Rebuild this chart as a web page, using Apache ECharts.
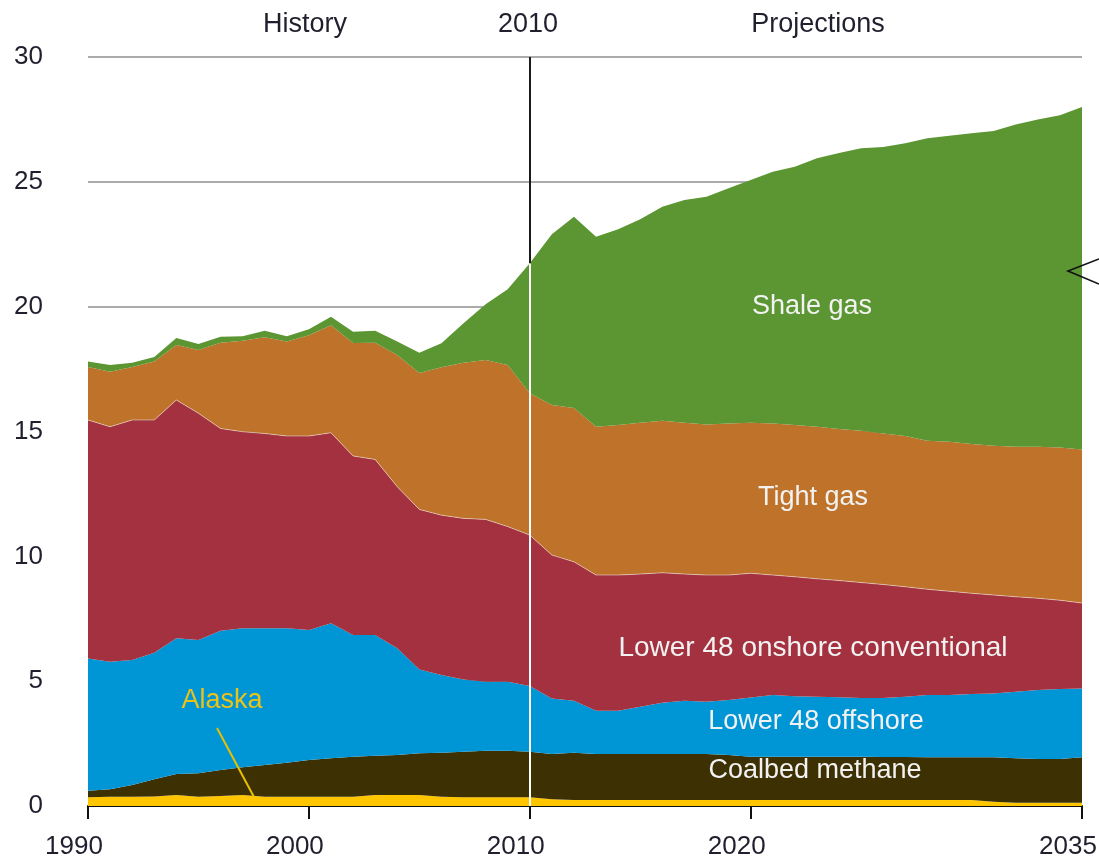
<!DOCTYPE html>
<html>
<head>
<meta charset="utf-8">
<title>U.S. natural gas production by source, 1990-2035</title>
<script src="https://cdn.jsdelivr.net/npm/echarts@6/dist/echarts.min.js"></script>
<style>
  html, body { margin: 0; padding: 0; background: #fff; }
  #chart { width: 1099px; height: 860px; }
</style>
</head>
<body>
<div id="chart"></div>
<script>
// Years on the horizontal axis
const years = [];
for (let y = 1990; y <= 2035; y++) years.push(String(y));

// Production by source (trillion cubic feet), bottom of the stack first
const alaska = [0.35,0.37,0.37,0.38,0.44,0.37,0.40,0.44,0.37,0.37,0.37,0.37,0.37,0.44,0.44,
  0.44,0.37,0.35,0.35,0.35,0.35,0.27,0.24,0.24,0.24,0.24,0.24,0.24,0.24,0.24,0.24,0.24,
  0.24,0.24,0.24,0.24,0.24,0.24,0.24,0.24,0.24,0.17,0.13,0.13,0.13,0.13];
const coalbed = [0.26,0.30,0.47,0.69,0.84,0.94,1.04,1.11,1.27,1.36,1.47,1.54,1.60,1.57,1.60,
  1.67,1.76,1.82,1.86,1.86,1.82,1.81,1.89,1.84,1.84,1.84,1.84,1.84,1.84,1.80,1.73,1.73,
  1.73,1.73,1.73,1.73,1.72,1.72,1.71,1.71,1.71,1.78,1.78,1.75,1.75,1.82];
const offshore = [5.30,5.11,5.01,5.07,5.44,5.34,5.58,5.57,5.48,5.39,5.21,5.41,4.88,4.84,4.28,
  3.36,3.12,2.90,2.77,2.77,2.64,2.23,2.09,1.74,1.74,1.90,2.06,2.14,2.10,2.21,2.38,2.48,
  2.43,2.41,2.39,2.36,2.37,2.42,2.50,2.50,2.54,2.56,2.67,2.77,2.81,2.76];
const onshore = [9.55,9.41,9.61,9.32,9.54,9.08,8.10,7.87,7.80,7.70,7.77,7.63,7.17,7.03,6.47,
  6.41,6.40,6.45,6.50,6.21,6.04,5.74,5.56,5.43,5.43,5.31,5.20,5.07,5.07,5.00,4.97,4.80,
  4.78,4.72,4.67,4.62,4.54,4.40,4.23,4.15,4.03,3.94,3.80,3.67,3.55,3.42];
const tight = [2.12,2.20,2.12,2.34,2.20,2.53,3.43,3.64,3.86,3.78,4.04,4.31,4.52,4.67,5.27,
  5.46,5.92,6.23,6.38,6.47,5.68,6.01,6.16,5.94,6.01,6.06,6.09,6.06,6.03,6.07,6.03,6.07,
  6.08,6.09,6.07,6.08,6.05,6.04,5.95,5.99,5.98,5.98,6.01,6.07,6.12,6.15];
const shale = [0.22,0.27,0.17,0.18,0.28,0.24,0.25,0.19,0.26,0.22,0.24,0.34,0.46,0.49,0.54,
  0.81,0.96,1.59,2.24,3.04,5.21,6.84,7.66,7.61,7.84,8.15,8.57,8.92,9.12,9.42,9.72,10.08,
  10.34,10.75,11.05,11.32,11.48,11.73,12.12,12.26,12.45,12.61,12.91,13.11,13.31,13.72];

// Axis ticks
const xTicks = ['1990', '2000', '2010', '2020', '2035'];
const yTicks = [0, 5, 10, 15, 20, 25, 30];
const splitYear = '2010';

const names = ['Alaska', 'Coalbed methane', 'Lower 48 offshore',
  'Lower 48 onshore conventional', 'Tight gas', 'Shale gas'];
const values = [alaska, coalbed, offshore, onshore, tight, shale];
const colors = ['#FFC600', '#3D3104', '#0096D6', '#A3313F', '#BE722A', '#5B9632'];

const FONT = '"Liberation Sans", Arial, sans-serif';

// Stack height at the history/projection boundary
const splitIdx = years.indexOf(splitYear);
const totalAtSplit = values.reduce((s, arr) => s + arr[splitIdx], 0);

const series = values.map((arr, i) => ({
  name: names[i],
  type: 'line',
  stack: 'total',
  symbol: 'none',
  showSymbol: false,
  smooth: false,
  data: arr,
  lineStyle: i === 3
    ? { width: 1, color: 'rgba(255,255,255,0.45)' }
    : { width: 0 },
  areaStyle: { color: colors[i], opacity: 1 },
  itemStyle: { color: colors[i] },
  z: 2
}));

// Divider between history and projections: white across the areas, black above them
series.push({
  type: 'line',
  symbol: 'none',
  data: [],
  lineStyle: { width: 0 },
  z: 5,
  markLine: {
    silent: true,
    symbol: 'none',
    label: { show: false },
    animation: false,
    data: [
      [{ coord: [splitYear, 0], lineStyle: { color: '#ffffff', width: 2, type: 'solid' } },
       { coord: [splitYear, totalAtSplit] }],
      [{ coord: [splitYear, totalAtSplit], lineStyle: { color: '#1a1a1a', width: 2, type: 'solid' } },
       { coord: [splitYear, 30] }]
    ]
  }
});

const chart = echarts.init(document.getElementById('chart'), null, { renderer: 'canvas' });

const labelText = (text, x, y, color, size) => ({
  type: 'text',
  x: x, y: y,
  z: 20,
  style: {
    text: text,
    fill: color,
    font: (size || 27) + 'px ' + FONT,
    textAlign: 'center',
    textVerticalAlign: 'middle'
  }
});

const isTick = (idx, val) => xTicks.includes(String(val));

chart.setOption({
  animation: false,
  backgroundColor: '#ffffff',
  grid: { left: 88, right: 17, top: 57, bottom: 54, containLabel: false, outerBoundsMode: 'none' },
  xAxis: {
    type: 'category',
    data: years,
    boundaryGap: false,
    axisLine: { show: true, lineStyle: { color: '#111', width: 2 } },
    axisTick: {
      show: true,
      interval: isTick,
      length: 13,
      lineStyle: { color: '#111', width: 2 }
    },
    axisLabel: {
      interval: isTick,
      margin: 28,
      color: '#1f1f2e',
      fontSize: 26,
      fontFamily: FONT,
      padding: [0, 28, 0, 0]
    },
    splitLine: { show: false }
  },
  yAxis: {
    type: 'value',
    min: 0,
    max: 30,
    interval: 5,
    axisLine: { show: false },
    axisTick: { show: false },
    axisLabel: {
      margin: 45,
      color: '#1f1f2e',
      fontSize: 26,
      fontFamily: FONT,
      align: 'right',
      padding: [0, 0, 6, 0],
      formatter: v => (yTicks.includes(v) ? String(v) : '')
    },
    splitLine: { show: true, lineStyle: { color: '#8f8f8f', width: 1.5 } }
  },
  series: series,
  graphic: [
    labelText('History', 305, 25, '#1f1f2e'),
    labelText('2010', 528, 25, '#1f1f2e'),
    labelText('Projections', 818, 25, '#1f1f2e'),
    labelText('Shale gas', 812, 307, '#f2f2f2'),
    labelText('Tight gas', 813, 498, '#f2f2f2'),
    labelText('Lower 48 onshore conventional', 813, 648, '#f2f2f2', 28),
    labelText('Lower 48 offshore', 816, 722, '#f2f2f2'),
    labelText('Coalbed methane', 815, 771, '#f2f2f2'),
    labelText('Alaska', 222, 701, '#EBC21A'),
    {
      type: 'line', z: 20,
      shape: { x1: 217, y1: 728, x2: 254, y2: 797 },
      style: { stroke: '#E8C000', lineWidth: 2 }
    },
    {
      type: 'polyline', z: 20,
      shape: { points: [[1099, 259], [1068, 271], [1099, 284]] },
      style: { stroke: '#111', lineWidth: 1.6, fill: null }
    }
  ]
});
</script>
</body>
</html>
